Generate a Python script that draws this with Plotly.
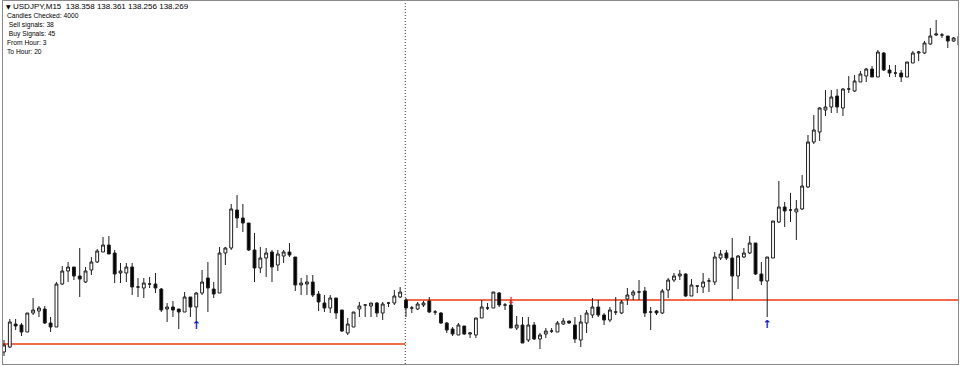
import plotly.graph_objects as go

# ---------------- data ----------------
bars = list(range(165))

opens = [
    135.20, 135.25, 135.48, 135.47, 135.40, 135.59, 135.61, 135.63, 135.49, 135.45,
    135.88, 136.01, 136.05, 135.96, 135.90, 136.02, 136.10, 136.20, 136.27, 136.19,
    135.99, 135.99, 136.05, 135.85, 135.84, 135.88, 135.88, 135.83, 135.63, 135.65,
    135.63, 135.60, 135.75, 135.65, 135.79, 135.94, 135.83, 135.79, 136.19, 136.24,
    136.62, 136.54, 136.49, 136.22, 136.04, 136.14, 136.20, 136.07, 136.16, 136.20,
    136.15, 135.87, 135.88, 135.90, 135.78, 135.69, 135.64, 135.74, 135.62, 135.39,
    135.45, 135.63, 135.67, 135.66, 135.69, 135.59, 135.69, 135.69, 135.75, 135.72,
    135.64, 135.63, 135.67, 135.71, 135.60, 135.59, 135.49, 135.43, 135.37, 135.46,
    135.38, 135.37, 135.54, 135.64, 135.64, 135.79, 135.67, 135.67, 135.44, 135.47,
    135.32, 135.47, 135.33, 135.38, 135.41, 135.40, 135.48, 135.51, 135.47, 135.32,
    135.49, 135.57, 135.65, 135.57, 135.52, 135.60, 135.59, 135.73, 135.77, 135.80,
    135.81, 135.60, 135.61, 135.59, 135.82, 135.92, 135.96, 135.98, 135.76, 135.86,
    135.85, 135.91, 135.90, 136.14, 136.19, 136.14, 135.96, 136.15, 136.19, 136.29,
    135.98, 135.91, 136.14, 136.50, 136.65, 136.62, 136.60, 136.63, 136.85, 137.30,
    137.40, 137.62, 137.65, 137.76, 137.64, 137.83, 137.81, 137.90, 137.96, 138.03,
    137.95, 138.19, 138.02, 137.99, 137.99, 137.95, 138.09, 138.19, 138.19, 138.28,
    138.37, 138.37, 138.36, 138.31, 138.358,
]
highs = [
    135.32, 135.53, 135.53, 135.49, 135.59, 135.74, 135.66, 135.66, 135.55, 135.90,
    136.06, 136.10, 136.05, 136.24, 136.05, 136.15, 136.23, 136.35, 136.36, 136.22,
    136.09, 136.09, 136.09, 135.94, 135.94, 135.95, 135.99, 135.84, 135.69, 135.71,
    135.63, 135.80, 135.75, 135.80, 136.02, 136.10, 135.90, 136.25, 136.25, 136.68,
    136.77, 136.68, 136.49, 136.39, 136.25, 136.24, 136.22, 136.22, 136.22, 136.29,
    136.15, 135.94, 135.97, 135.97, 135.81, 135.77, 135.77, 135.74, 135.62, 135.54,
    135.60, 135.70, 135.67, 135.69, 135.70, 135.70, 135.70, 135.82, 135.85, 135.74,
    135.66, 135.70, 135.71, 135.75, 135.62, 135.60, 135.50, 135.45, 135.49, 135.46,
    135.40, 135.54, 135.72, 135.69, 135.80, 135.80, 135.69, 135.72, 135.56, 135.55,
    135.55, 135.50, 135.39, 135.44, 135.44, 135.51, 135.54, 135.51, 135.55, 135.57,
    135.62, 135.74, 135.72, 135.59, 135.65, 135.75, 135.72, 135.84, 135.82, 135.92,
    135.85, 135.65, 135.62, 135.83, 135.94, 135.99, 136.02, 135.99, 135.93, 135.86,
    135.99, 135.94, 136.20, 136.22, 136.22, 136.34, 136.17, 136.24, 136.36, 136.29,
    136.10, 136.15, 136.51, 136.91, 136.70, 136.79, 136.72, 136.97, 137.37, 137.57,
    137.65, 137.82, 137.82, 137.83, 137.84, 137.96, 137.97, 138.01, 138.04, 138.06,
    138.22, 138.20, 138.07, 138.07, 138.02, 138.10, 138.21, 138.21, 138.31, 138.44,
    138.52, 138.39, 138.36, 138.35, 138.361,
]
lows = [
    135.16, 135.24, 135.42, 135.36, 135.40, 135.57, 135.55, 135.48, 135.40, 135.45,
    135.87, 135.90, 135.92, 135.75, 135.89, 135.97, 136.09, 136.20, 136.18, 135.89,
    135.89, 135.90, 135.77, 135.75, 135.74, 135.84, 135.79, 135.60, 135.50, 135.55,
    135.43, 135.60, 135.55, 135.49, 135.77, 135.60, 135.74, 135.79, 136.07, 136.22,
    136.44, 136.40, 136.21, 135.90, 135.99, 135.95, 135.90, 136.01, 136.09, 136.15,
    135.81, 135.77, 135.77, 135.75, 135.61, 135.60, 135.59, 135.53, 135.40, 135.37,
    135.45, 135.55, 135.55, 135.55, 135.55, 135.52, 135.65, 135.67, 135.74, 135.55,
    135.59, 135.62, 135.65, 135.59, 135.57, 135.48, 135.39, 135.36, 135.37, 135.37,
    135.34, 135.34, 135.54, 135.62, 135.64, 135.65, 135.62, 135.44, 135.42, 135.29,
    135.30, 135.32, 135.23, 135.34, 135.39, 135.40, 135.47, 135.48, 135.29, 135.25,
    135.39, 135.54, 135.55, 135.47, 135.50, 135.57, 135.58, 135.67, 135.72, 135.72,
    135.55, 135.42, 135.57, 135.58, 135.74, 135.90, 135.92, 135.75, 135.76, 135.79,
    135.79, 135.80, 135.87, 136.12, 136.12, 135.72, 135.83, 136.14, 136.18, 135.97,
    135.87, 135.55, 136.14, 136.49, 136.45, 136.50, 136.32, 136.62, 136.84, 137.28,
    137.31, 137.56, 137.59, 137.59, 137.56, 137.79, 137.80, 137.90, 137.90, 137.95,
    137.95, 138.01, 137.95, 137.95, 137.90, 137.95, 138.09, 138.11, 138.18, 138.27,
    138.36, 138.34, 138.24, 138.30, 138.256,
]
closes = [
    135.27, 135.50, 135.46, 135.40, 135.59, 135.62, 135.64, 135.49, 135.45, 135.88,
    136.01, 136.05, 135.96, 135.93, 136.01, 136.10, 136.21, 136.27, 136.18, 135.98,
    136.01, 136.05, 135.85, 135.85, 135.89, 135.88, 135.84, 135.62, 135.65, 135.62,
    135.60, 135.75, 135.65, 135.79, 135.90, 135.84, 135.78, 136.19, 136.24, 136.63,
    136.54, 136.49, 136.22, 136.04, 136.14, 136.19, 136.05, 136.18, 136.20, 136.17,
    135.87, 135.89, 135.90, 135.77, 135.70, 135.64, 135.74, 135.59, 135.41, 135.48,
    135.60, 135.66, 135.67, 135.69, 135.59, 135.68, 135.69, 135.76, 135.80, 135.64,
    135.64, 135.68, 135.69, 135.60, 135.60, 135.49, 135.42, 135.38, 135.47, 135.38,
    135.39, 135.54, 135.65, 135.64, 135.80, 135.67, 135.67, 135.44, 135.47, 135.29,
    135.47, 135.33, 135.37, 135.41, 135.41, 135.49, 135.51, 135.49, 135.33, 135.50,
    135.59, 135.65, 135.57, 135.52, 135.62, 135.60, 135.70, 135.77, 135.80, 135.80,
    135.59, 135.60, 135.59, 135.81, 135.92, 135.96, 135.98, 135.76, 135.87, 135.86,
    135.90, 135.91, 136.15, 136.18, 136.14, 135.96, 136.16, 136.19, 136.29, 135.98,
    135.91, 136.15, 136.51, 136.65, 136.61, 136.62, 136.63, 136.86, 137.30, 137.42,
    137.64, 137.65, 137.75, 137.65, 137.83, 137.83, 137.91, 137.98, 138.03, 137.95,
    138.20, 138.02, 137.99, 137.99, 137.95, 138.10, 138.19, 138.20, 138.29, 138.36,
    138.38, 138.37, 138.31, 138.34, 138.269,
]

buy_signal_bars = [33, 131]
buy_signal_prices = [135.46, 135.465]
sell_signal_bars = [87]
sell_signal_prices = [135.71]

separator_bar = 69
level_prices = [135.28, 135.72]   # left of separator, right of separator

info_title = "USDJPY,M15  138.358 138.361 138.256 138.269"
info_lines = ["Candles Checked: 4000", " Sell signals: 38", " Buy Signals: 45",
              "From Hour: 3", "To Hour: 20"]

# ---------------- figure ----------------
W, H = 960, 366
ML, MR, MT, MB = 3, 2, 1, 2
PW, PH = W - ML - MR, H - MT - MB
X_RANGE = [-0.17, 163.75]
Y_RANGE = [135.08, 138.71]


def px_x(px):
    return (px - ML) / PW


def px_y(py):
    return (H - MB - py) / PH


fig = go.Figure()
fig.add_trace(go.Candlestick(
    x=bars, open=opens, high=highs, low=lows, close=closes,
    increasing=dict(fillcolor="white", line=dict(color="#1e1e1e", width=1)),
    decreasing=dict(fillcolor="black", line=dict(color="#1e1e1e", width=1)),
    whiskerwidth=0, showlegend=False, hoverinfo="skip",
))

fig.add_trace(go.Scatter(
    x=buy_signal_bars, y=buy_signal_prices, mode="text", text=["↑"] * len(buy_signal_bars),
    textfont=dict(family="DejaVu Sans", size=11, color="#0b16e6", weight="bold"),
    textposition="middle center", showlegend=False, hoverinfo="skip", cliponaxis=False,
))
fig.add_trace(go.Scatter(
    x=sell_signal_bars, y=sell_signal_prices, mode="text", text=["↓"] * len(sell_signal_bars),
    textfont=dict(family="DejaVu Sans", size=10, color="#e8261c", weight="bold"),
    textposition="middle center", showlegend=False, hoverinfo="skip", cliponaxis=False,
))

sep_x = separator_bar - 0.12
level_color = "#f26a4a"
fig.add_shape(type="line", xref="x", yref="y", x0=X_RANGE[0], x1=sep_x,
              y0=level_prices[0], y1=level_prices[0],
              line=dict(color=level_color, width=2), layer="below")
fig.add_shape(type="line", xref="x", yref="y", x0=sep_x, x1=X_RANGE[1] + 2,
              y0=level_prices[1], y1=level_prices[1],
              line=dict(color=level_color, width=2), layer="below")
fig.add_shape(type="line", xref="x", yref="paper", x0=sep_x, x1=sep_x, y0=0, y1=1,
              line=dict(color="#3a3a3a", width=1, dash="1px,2px"), layer="below")

ann = []
ann.append(dict(text="▼", x=px_x(4), y=px_y(7), xref="paper", yref="paper",
                xanchor="left", yanchor="middle", showarrow=False,
                font=dict(family="DejaVu Sans", size=6, color="black")))
ann.append(dict(text=info_title, x=px_x(11.3), y=px_y(6.7), xref="paper", yref="paper",
                xanchor="left", yanchor="middle", showarrow=False,
                font=dict(family="Liberation Sans", size=8, color="black")))
line_y = [16, 25, 34, 42.7, 51.7]
for t, yy in zip(info_lines, line_y):
    ann.append(dict(text=t.replace(" ", "&nbsp;", 1) if t.startswith(" ") else t,
                    x=px_x(4.7), y=px_y(yy), xref="paper", yref="paper",
                    xanchor="left", yanchor="middle", showarrow=False,
                    font=dict(family="Liberation Sans", size=6.7, color="black")))

axis_common = dict(showgrid=False, zeroline=False, showticklabels=False, ticks="",
                   showline=True, mirror=True, linecolor="#8a8a8a", linewidth=1,
                   fixedrange=True)
fig.update_layout(
    width=W, height=H,
    margin=dict(l=ML, r=MR, t=MT, b=MB, pad=0),
    paper_bgcolor="white", plot_bgcolor="white",
    boxgap=0.3,
    xaxis=dict(range=X_RANGE, rangeslider=dict(visible=False), **axis_common),
    yaxis=dict(range=Y_RANGE, **axis_common),
    annotations=ann,
    showlegend=False,
)

fig.write_html("out.html")
